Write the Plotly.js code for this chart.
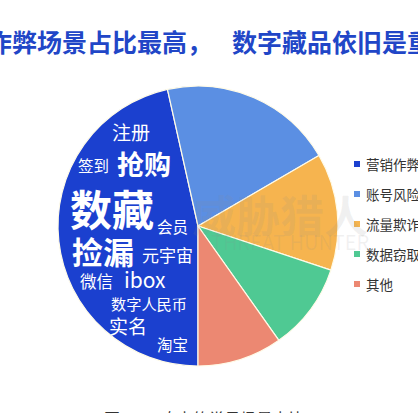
<!DOCTYPE html>
<html><head><meta charset="utf-8">
<script src="https://cdn.plot.ly/plotly-3.0.1.min.js"></script>
<style>html,body{margin:0;padding:0;background:#fff;overflow:hidden}</style>
</head><body>
<div id="chart" style="width:418px;height:413px"></div>
<script>
// ---- data ----
const labels = ['营销作弊', '账号风险', '流量欺诈', '数据窃取', '其他'];
const values = [46.5, 20.1, 13.5, 10.1, 9.8];
const colors = ['#1b40cf', '#5b8fe3', '#f6b44f', '#4fc993', '#ec8872'];
const words = ['注册', '签到', '抢购', '数藏', '会员', '捡漏', '元宇宙', '微信', 'ibox', '数字人民币', '实名', '淘宝'];
const titleLeft = '营销作弊场景占比最高，';
const titleRight = '数字藏品依旧是重灾区';
const caption = '图：API攻击的常见场景占比';
const watermark = '威胁猎人';
const watermarkSub = 'THREAT HUNTER';

// ---- layout helpers (pixel -> paper) ----
const W = 418, H = 413;
const px = x => x / W;
const py = y => 1 - y / H;
const FONT = '"Noto Sans CJK SC", "Noto Sans", sans-serif';

// word cloud placement: [x, y, size, bold]
const wordStyle = [
  [131, 131, 19, false],
  [93, 165, 15.5, false],
  [144, 163, 27, true],
  [112, 207, 42, true],
  [172, 226, 15.5, false],
  [103, 250, 31, true],
  [167, 254, 17, false],
  [96, 281, 16.5, false],
  [145, 279, 21, false],
  [149, 303, 15.2, false],
  [128, 325, 19, false],
  [172, 344, 15.5, false]
];

const annotations = [];
// title (two pieces, cropped by the page edge)
annotations.push({text: titleLeft, xref: 'paper', yref: 'paper', x: px(-65), y: py(40.5),
  xanchor: 'left', yanchor: 'middle', showarrow: false,
  font: {family: FONT, size: 25, color: '#2146c7', weight: 'bold'}});
annotations.push({text: titleRight, xref: 'paper', yref: 'paper', x: px(230), y: py(40.5),
  xanchor: 'left', yanchor: 'middle', showarrow: false,
  font: {family: FONT, size: 25, color: '#2146c7', weight: 'bold'}});

// watermark
annotations.push({text: watermark, xref: 'paper', yref: 'paper', x: px(280), y: py(214),
  xanchor: 'center', yanchor: 'middle', showarrow: false,
  font: {family: FONT, size: 44, color: 'rgba(140,140,140,0.13)', weight: 'bold'}});
annotations.push({text: watermarkSub, xref: 'paper', yref: 'paper', x: px(290), y: py(241),
  xanchor: 'center', yanchor: 'middle', showarrow: false,
  font: {family: FONT, size: 20, color: 'rgba(140,140,140,0.12)'}});

// word cloud
words.forEach((w, i) => {
  const s = wordStyle[i];
  annotations.push({text: w, xref: 'paper', yref: 'paper', x: px(s[0]), y: py(s[1]),
    xanchor: 'center', yanchor: 'middle', showarrow: false,
    font: {family: FONT, size: s[2], color: '#ffffff', weight: s[3] ? 'bold' : 'normal'}});
});

// legend (custom, 30px pitch)
const shapes = [];
labels.forEach((l, i) => {
  const yc = 164 + i * 30;
  shapes.push({type: 'rect', xref: 'paper', yref: 'paper',
    x0: px(354), x1: px(360), y0: py(yc + 3), y1: py(yc - 3),
    fillcolor: colors[i], line: {width: 0}});
  annotations.push({text: l, xref: 'paper', yref: 'paper', x: px(364), y: py(yc),
    xanchor: 'left', yanchor: 'middle', showarrow: false,
    font: {family: FONT, size: 13.5, color: '#333333'}});
});

// caption (cropped at bottom)
annotations.push({text: caption, xref: 'paper', yref: 'paper', x: px(204), y: py(418),
  xanchor: 'center', yanchor: 'middle', showarrow: false,
  font: {family: FONT, size: 16, color: '#333333'}});

const trace = {
  type: 'pie',
  labels: labels,
  values: values,
  sort: false,
  direction: 'clockwise',
  rotation: 180,
  textinfo: 'none',
  hoverinfo: 'label+percent',
  marker: {colors: colors, line: {color: '#fffbe8', width: 1.2}},
  domain: {x: [px(58), px(338)], y: [py(366), py(86)]},
  showlegend: false
};

const layout = {
  width: W, height: H,
  margin: {l: 0, r: 0, t: 0, b: 0},
  paper_bgcolor: '#ffffff',
  showlegend: false,
  annotations: annotations,
  shapes: shapes
};

Plotly.newPlot('chart', [trace], layout, {displayModeBar: false, staticPlot: true});
</script>
</body></html>
